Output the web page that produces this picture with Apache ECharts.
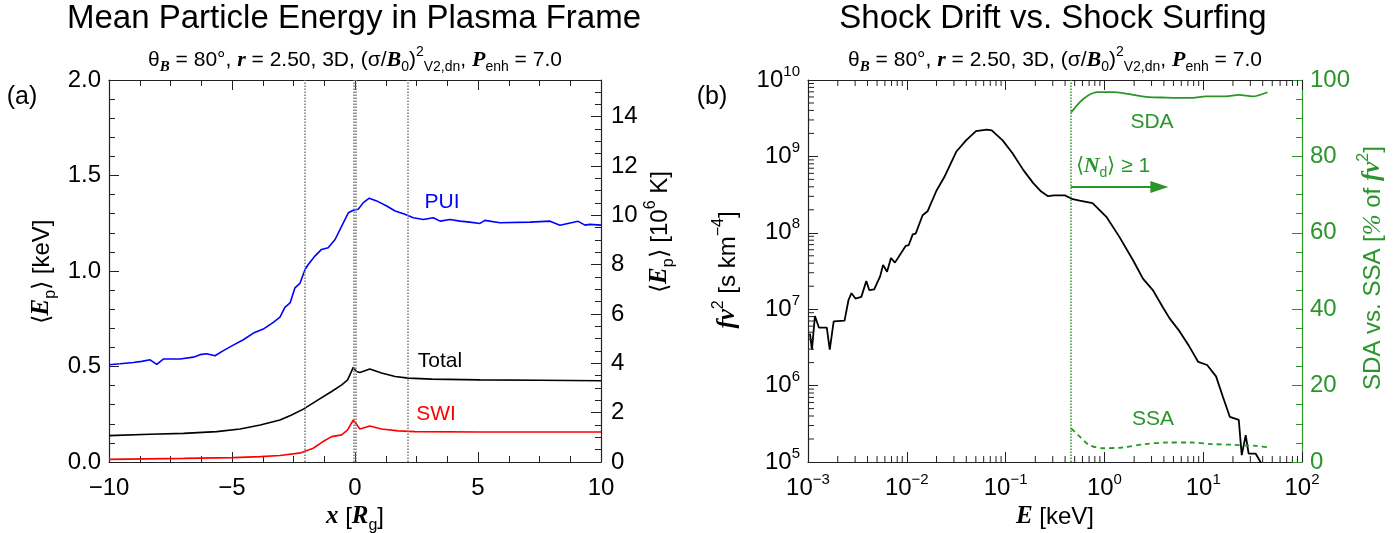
<!DOCTYPE html>
<html>
<head>
<meta charset="utf-8">
<script src="https://cdn.jsdelivr.net/npm/echarts@6/dist/echarts.min.js"></script>
<style>
html, body { margin: 0; background: #fff; }
#chart { width: 1398px; height: 533px; }
</style>
</head>
<body>
<div id="chart"></div>
<script>
// ---- panel (a): mean energy vs x ----
var puiX = [-10.0, -9.55, -9.01, -8.67, -8.33, -8.06, -7.79, -7.11, -6.57, -6.30, -6.03, -5.69, -5.35, -4.95, -4.54, -4.13, -3.73, -3.32, -3.05, -2.85, -2.64, -2.44, -2.24, -2.03, -1.90, -1.63, -1.36, -1.09, -0.81, -0.54, -0.27, -0.07, 0.13, 0.34, 0.58, 0.88, 1.29, 1.63, 2.03, 2.37, 2.78, 3.18, 3.46, 3.86, 4.27, 4.67, 5.08, 5.28, 5.89, 7.11, 7.93, 8.33, 9.07, 9.35, 9.55, 10.0];
var puiE = [0.509, 0.514, 0.521, 0.527, 0.535, 0.511, 0.539, 0.539, 0.549, 0.562, 0.567, 0.556, 0.583, 0.612, 0.640, 0.675, 0.696, 0.731, 0.758, 0.810, 0.833, 0.912, 0.935, 1.008, 1.034, 1.078, 1.113, 1.122, 1.165, 1.235, 1.305, 1.318, 1.323, 1.358, 1.381, 1.367, 1.340, 1.314, 1.297, 1.279, 1.270, 1.279, 1.261, 1.270, 1.261, 1.256, 1.249, 1.265, 1.253, 1.256, 1.261, 1.240, 1.260, 1.240, 1.244, 1.240];

var totalX = [-10.0, -8.33, -6.97, -5.62, -4.67, -3.85, -3.05, -2.6, -2.1, -1.5, -0.95, -0.54, -0.3, -0.07, 0.06, 0.2, 0.6, 1.08, 1.63, 2.17, 3.12, 5.08, 7.5, 10.0];
var totalE = [0.138, 0.145, 0.150, 0.159, 0.173, 0.194, 0.220, 0.245, 0.277, 0.325, 0.369, 0.404, 0.430, 0.495, 0.474, 0.469, 0.487, 0.466, 0.448, 0.439, 0.434, 0.430, 0.428, 0.425];

var swiX = [-10.0, -6.97, -4.95, -3.85, -3.05, -2.2, -1.7, -1.3, -0.95, -0.54, -0.3, -0.07, 0.06, 0.2, 0.6, 1.08, 1.76, 2.44, 5.08, 10.0];
var swiE = [0.014, 0.019, 0.023, 0.028, 0.034, 0.048, 0.072, 0.107, 0.133, 0.142, 0.168, 0.220, 0.198, 0.173, 0.189, 0.173, 0.163, 0.159, 0.157, 0.157];

var shockLines = [-2.05, -0.05, 0.03, 2.15];
var keVtoMK = 7.74;   // right-hand axis scale, 10^6 K per keV

// ---- panel (b): spectrum ----
var specE = [1.047e-3, 1.096e-3, 1.175e-3, 1.288e-3, 1.549e-3, 1.660e-3, 1.820e-3, 2.344e-3, 2.570e-3, 2.754e-3, 3.020e-3, 3.467e-3, 3.890e-3, 4.169e-3, 4.677e-3, 5.370e-3, 5.754e-3, 6.310e-3, 6.918e-3, 7.586e-3, 9.772e-3, 1.047e-2, 1.148e-2, 1.230e-2, 1.445e-2, 1.622e-2, 1.995e-2, 2.399e-2, 3.162e-2, 3.981e-2, 5.012e-2, 6.457e-2, 7.244e-2, 9.333e-2, 0.1175, 0.1514, 0.1905, 0.2291, 0.2692, 0.3090, 0.3981, 0.4786, 0.5623, 0.7586, 1.047, 1.413, 1.950, 2.455, 3.090, 3.890, 4.571, 5.623, 7.244, 8.913, 10.96, 13.49, 15.85, 18.62, 22.91, 24.55, 26.92, 28.84, 33.88, 38.02, 41.7];
var specF = [4.79e6, 2.95e6, 8.13e6, 5.75e6, 5.75e6, 2.95e6, 6.92e6, 7.08e6, 1.32e7, 1.62e7, 1.38e7, 1.45e7, 2.34e7, 1.78e7, 1.82e7, 2.69e7, 3.80e7, 3.09e7, 4.68e7, 4.07e7, 6.76e7, 6.92e7, 9.55e7, 9.77e7, 1.70e8, 1.91e8, 3.55e8, 5.37e8, 1.15e9, 1.62e9, 2.14e9, 2.24e9, 2.19e9, 1.62e9, 1.10e9, 6.61e8, 4.47e8, 3.47e8, 3.02e8, 3.09e8, 3.09e8, 2.75e8, 2.63e8, 2.45e8, 1.62e8, 8.91e7, 4.37e7, 2.51e7, 1.78e7, 1.07e7, 7.59e6, 5.37e6, 3.24e6, 2.04e6, 1.86e6, 1.32e6, 7.08e5, 3.89e5, 3.55e5, 1.23e5, 2.24e5, 1.29e5, 1.29e5, 1.0e5, 7.9e4];

var sdaE = [0.461, 0.558, 0.678, 0.855, 1.21, 1.79, 2.64, 4.20, 7.80, 10.6, 16.9, 23.1, 31.5, 44.7];
var sdaPct = [91.5, 94.1, 95.9, 96.8, 96.8, 96.3, 95.6, 95.4, 95.3, 95.7, 95.7, 96.1, 95.7, 96.8];

var ssaE = [0.461, 0.540, 0.698, 0.955, 1.51, 2.57, 4.31, 7.26, 12.2, 20.6, 34.6, 47.2];
var ssaPct = [8.8, 7.1, 4.5, 3.6, 3.8, 4.7, 5.1, 5.1, 4.7, 4.5, 4.2, 3.8];

var driftLimitE = 0.46;
var arrowFrom = [0.46, 72];
var arrowTo = [3.6, 72];

var green = '#2a962a';
var sans = 'Liberation Sans';
var serif = 'Liberation Serif';

function zip(a, b) { return a.map(function (v, i) { return [v, b[i]]; }); }

function logMinors(lo, hi) {
  var out = [];
  for (var e = lo; e < hi; e++)
    for (var k = 2; k <= 9; k++) out.push(k * Math.pow(10, e));
  return out;
}

function pow10Label(v) {
  var n = Math.round(Math.log10(v));
  return '{b|10}{s|' + String(n).replace('-', '\u2212') + '}';
}

var pow10Rich = {
  b: { fontSize: 24, fontFamily: sans, color: '#000', lineHeight: 32 },
  s: { fontSize: 15, fontFamily: sans, color: '#000', verticalAlign: 'top', lineHeight: 17 }
};

function rich(size, color) {
  return {
    bi: { fontFamily: serif, fontWeight: 'bold', fontStyle: 'italic', fontSize: size + 1, color: color },
    it: { fontFamily: serif, fontStyle: 'italic', fontSize: size + 1, color: color },
    sub: { fontFamily: sans, fontSize: Math.round(size * 0.65), verticalAlign: 'bottom', lineHeight: Math.round(size * 0.7), color: color },
    bsub: { fontFamily: serif, fontWeight: 'bold', fontStyle: 'italic', fontSize: Math.round(size * 0.7), verticalAlign: 'bottom', lineHeight: Math.round(size * 0.7), color: color },
    sup: { fontFamily: sans, fontSize: Math.round(size * 0.65), verticalAlign: 'top', lineHeight: Math.round(size * 0.7), color: color }
  };
}

function txt(x, y, text, size, color, opts) {
  opts = opts || {};
  return {
    type: 'text', x: x, y: y, rotation: opts.rot || 0, silent: true, z: 100,
    style: {
      text: text, fill: color, font: size + 'px "' + sans + '"',
      align: 'center', verticalAlign: 'middle', lineHeight: Math.round(size * 1.4),
      rich: rich(size, color)
    }
  };
}

var tickIn = function (len) { return { show: true, inside: true, length: len, lineStyle: { color: '#222', width: 1 } }; };
var minorIn = function (n) { return { show: true, splitNumber: n, length: 6, lineStyle: { color: '#222', width: 1 } }; };
var axLine = { show: true, onZero: false, lineStyle: { color: '#222', width: 1.2 } };
var lblStyle = { fontSize: 24, fontFamily: sans, color: '#000' };

var minorTickSeries = function (axis) {
  return {
    type: 'custom', xAxisIndex: 2, yAxisIndex: 2, silent: true, z: 5,
    data: axis === 'x' ? logMinors(-3, 2).map(function (v) { return [v, 1e7]; })
                       : logMinors(5, 10).map(function (v) { return [0.01, v]; }),
    renderItem: function (params, api) {
      var cs = params.coordSys;
      var p = api.coord([api.value(0), api.value(1)]);
      var st = { stroke: '#222', lineWidth: 1 };
      if (axis === 'x') {
        return { type: 'group', children: [
          { type: 'line', shape: { x1: p[0], y1: cs.y + cs.height, x2: p[0], y2: cs.y + cs.height - 6 }, style: st },
          { type: 'line', shape: { x1: p[0], y1: cs.y, x2: p[0], y2: cs.y + 6 }, style: st }
        ] };
      }
      return { type: 'line', shape: { x1: cs.x, y1: p[1], x2: cs.x + 6, y2: p[1] }, style: st };
    }
  };
};

var chart = echarts.init(document.getElementById('chart'), null, { renderer: 'canvas' });

var subtitle = '\u03b8{bsub|B} = 80\u00b0, {bi|r} = 2.50, 3D, (\u03c3/{bi|B}{sub|0}){sup|2}{sub|V2,dn}, {bi|P}{sub|enh} = 7.0';

var option = {
  animation: false,
  backgroundColor: '#fff',
  grid: [
    { left: 109, top: 80, width: 492, height: 382 },
    { left: 808, top: 80, width: 494, height: 382 }
  ],
  xAxis: [
    { type: 'value', gridIndex: 0, min: -10, max: 10, interval: 5, position: 'bottom',
      axisLine: axLine, axisTick: tickIn(10), minorTick: minorIn(4), splitLine: { show: false },
      axisLabel: Object.assign({ margin: 14, formatter: function (v) { return String(v).replace('-', '\u2212'); } }, lblStyle) },
    { type: 'value', gridIndex: 0, min: -10, max: 10, interval: 5, position: 'top',
      axisLine: axLine, axisTick: tickIn(10), minorTick: minorIn(4), splitLine: { show: false },
      axisLabel: { show: false } },
    { type: 'log', gridIndex: 1, min: 1e-3, max: 1e2, logBase: 10, splitNumber: 5, position: 'bottom',
      axisLine: axLine, axisTick: tickIn(10), splitLine: { show: false },
      axisLabel: { margin: 10, formatter: pow10Label, rich: pow10Rich } },
    { type: 'log', gridIndex: 1, min: 1e-3, max: 1e2, logBase: 10, splitNumber: 5, position: 'top',
      axisLine: axLine, axisTick: tickIn(10), splitLine: { show: false },
      axisLabel: { show: false } }
  ],
  yAxis: [
    { type: 'value', gridIndex: 0, min: 0, max: 2, interval: 0.5, position: 'left',
      axisLine: axLine, axisTick: tickIn(10), minorTick: minorIn(5), splitLine: { show: false },
      axisLabel: Object.assign({ margin: 8, formatter: function (v) { return v.toFixed(1); } }, lblStyle) },
    { type: 'value', gridIndex: 0, min: 0, max: 2 * keVtoMK, interval: 2, position: 'right',
      axisLine: axLine, axisTick: tickIn(10), minorTick: minorIn(4), splitLine: { show: false },
      axisLabel: Object.assign({ margin: 10, showMaxLabel: false }, lblStyle) },
    { type: 'log', gridIndex: 1, min: 1e5, max: 1e10, logBase: 10, splitNumber: 5, position: 'left',
      axisLine: axLine, axisTick: tickIn(10), splitLine: { show: false },
      axisLabel: { margin: 8, formatter: pow10Label, rich: pow10Rich } },
    { type: 'value', gridIndex: 1, min: 0, max: 100, interval: 20, position: 'right',
      axisLine: { show: true, onZero: false, lineStyle: { color: green, width: 1.2 } },
      axisTick: { show: true, inside: true, length: 10, lineStyle: { color: green } },
      minorTick: { show: true, splitNumber: 4, length: 6, lineStyle: { color: green } },
      splitLine: { show: false },
      axisLabel: { margin: 8, fontSize: 24, fontFamily: sans, color: green } }
  ],
  series: [
    { type: 'line', name: 'PUI', xAxisIndex: 0, yAxisIndex: 0, data: zip(puiX, puiE),
      showSymbol: false, lineStyle: { color: '#0000ff', width: 1.6 }, z: 3 },
    { type: 'line', name: 'Total', xAxisIndex: 0, yAxisIndex: 0, data: zip(totalX, totalE),
      showSymbol: false, lineStyle: { color: '#000', width: 1.6 }, z: 3,
      markLine: { silent: true, symbol: 'none', label: { show: false },
        lineStyle: { color: '#777', type: 'dotted', width: 1.5 },
        data: shockLines.map(function (v) { return { xAxis: v }; }) } },
    { type: 'line', name: 'SWI', xAxisIndex: 0, yAxisIndex: 0, data: zip(swiX, swiE),
      showSymbol: false, lineStyle: { color: '#ff0000', width: 1.6 }, z: 3 },
    { type: 'line', name: 'fv2', xAxisIndex: 2, yAxisIndex: 2, data: zip(specE, specF),
      showSymbol: false, lineStyle: { color: '#000', width: 1.8 }, z: 3 },
    { type: 'line', name: 'SDA', xAxisIndex: 2, yAxisIndex: 3, data: zip(sdaE, sdaPct),
      showSymbol: false, smooth: 0.3, lineStyle: { color: green, width: 1.8 }, z: 3,
      markLine: { silent: true, symbol: ['none', 'triangle'], symbolSize: 14, label: { show: false },
        lineStyle: { color: green, type: 'solid', width: 2 },
        data: [[{ coord: arrowFrom, symbol: 'none' }, { coord: arrowTo, symbol: 'triangle', symbolSize: [12, 18], symbolRotate: -90 }]] } },
    { type: 'line', name: 'SSA', xAxisIndex: 2, yAxisIndex: 3, data: zip(ssaE, ssaPct),
      showSymbol: false, smooth: 0.3, lineStyle: { color: green, width: 1.8, type: [5, 4] }, z: 3,
      markLine: { silent: true, symbol: 'none', label: { show: false },
        lineStyle: { color: green, type: 'dotted', width: 1.5 },
        data: [{ xAxis: driftLimitE }] } },
    minorTickSeries('x'),
    minorTickSeries('y')
  ],
  graphic: [
    txt(354, 19, 'Mean Particle Energy in Plasma Frame', 33, '#000'),
    txt(1053, 19, 'Shock Drift vs. Shock Surfing', 33, '#000'),
    txt(355, 60, subtitle, 21, '#000'),
    txt(1055, 60, subtitle, 21, '#000'),
    txt(22, 97, '(a)', 25, '#000'),
    txt(712, 97, '(b)', 25, '#000'),
    txt(42, 272, '\u27e8{bi|E}{sub|p}\u27e9 [keV]', 24, '#000', { rot: Math.PI / 2 }),
    txt(660, 232, '\u27e8{bi|E}{sub|p}\u27e9 [10{sup|6} K]', 24, '#000', { rot: Math.PI / 2 }),
    txt(355, 517, '{bi|x} [{bi|R}{sub|g}]', 24, '#000'),
    txt(1055, 517, '{bi|E} [keV]', 24, '#000'),
    txt(728, 270, '{bi|fv}{sup|2} [s km{sup|\u22124}]', 24, '#000', { rot: Math.PI / 2 }),
    txt(1373, 268, 'SDA vs. SSA [{it|%} of {bi|fv}{sup|2}]', 24, green, { rot: Math.PI / 2 }),
    txt(442, 202, 'PUI', 21, '#0000ff'),
    txt(440, 361, 'Total', 21, '#000'),
    txt(436, 414, 'SWI', 21, '#ff0000'),
    txt(1152, 122, 'SDA', 21, green),
    txt(1153, 419, 'SSA', 21, green),
    txt(1113, 166, '\u27e8{bi|N}{sub|d}\u27e9 \u2265 1', 21, green)
  ]
};

chart.setOption(option);
</script>
</body>
</html>
